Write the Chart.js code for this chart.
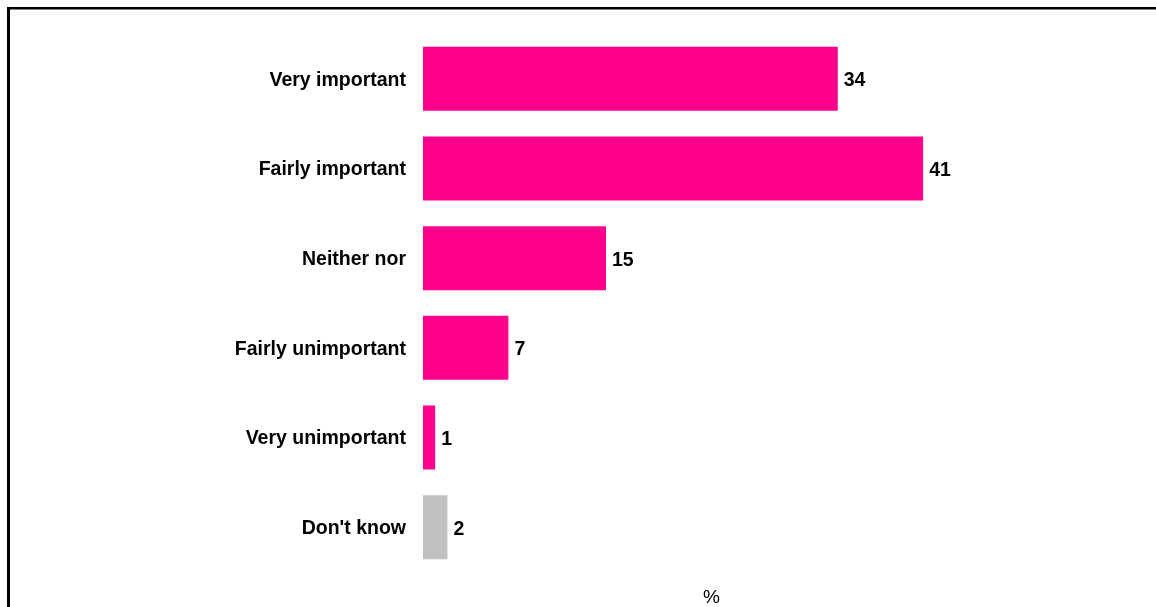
<!DOCTYPE html>
<html>
<head>
<meta charset="utf-8">
<script src="https://cdn.jsdelivr.net/npm/chart.js@4"></script>
<style>
  html, body { margin: 0; padding: 0; background: #fff; }
  #wrap { position: relative; width: 1156px; height: 607px; }
</style>
</head>
<body>
<div id="wrap"><canvas id="chImportance"></canvas></div>
<script>
const categories = ['Very important', 'Fairly important', 'Neither nor', 'Fairly unimportant', 'Very unimportant', "Don't know"];
const values = [34, 41, 15, 7, 1, 2];
const barColors = ['#FF008C', '#FF008C', '#FF008C', '#FF008C', '#FF008C', '#C0C0C0'];
const axisTitle = '%';

const FONT = 'Liberation Sans, Arial, Helvetica, sans-serif';

// frame: top and left rules round the chart
const framePlugin = {
  id: 'frame',
  afterDraw(chart) {
    const ctx = chart.ctx;
    ctx.save();
    ctx.fillStyle = '#000';
    ctx.fillRect(7, 7, chart.width - 7, 2.5);
    ctx.fillRect(7, 7, 3, chart.height - 7);
    ctx.restore();
  }
};

// value labels at the end of each bar
const valueLabels = {
  id: 'valueLabels',
  afterDatasetsDraw(chart) {
    const ctx = chart.ctx;
    const meta = chart.getDatasetMeta(0);
    ctx.save();
    ctx.font = 'bold 19.5px ' + FONT;
    ctx.fillStyle = '#000';
    ctx.textAlign = 'left';
    ctx.textBaseline = 'middle';
    meta.data.forEach((bar, i) => {
      ctx.fillText(String(values[i]), bar.x + 6, bar.y + 2);
    });
    ctx.restore();
  }
};

new Chart(document.getElementById('chImportance'), {
  type: 'bar',
  data: {
    labels: categories,
    datasets: [{ data: values, backgroundColor: barColors, borderWidth: 0, barPercentage: 0.713, categoryPercentage: 1 }]
  },
  options: {
    indexAxis: 'y',
    responsive: true,
    maintainAspectRatio: false,
    animation: false,
    layout: { padding: { top: 34, right: 156, bottom: 0, left: 0 } },
    plugins: { legend: { display: false }, tooltip: { enabled: false } },
    scales: {
      x: {
        min: 0, max: 47.3,
        grid: { display: false },
        border: { display: false },
        ticks: { display: false },
        title: { display: true, text: axisTitle, color: '#000', font: { family: FONT, size: 19 }, padding: { top: 0, bottom: -2 } },
        afterFit(scale) { scale.height = 35; }
      },
      y: {
        grid: { display: false, drawTicks: false },
        border: { display: false },
        ticks: { color: '#000', padding: 17, labelOffset: 1.5, font: { family: FONT, size: 19.5, weight: 'bold' } },
        afterFit(scale) { scale.width = 423; }
      }
    }
  },
  plugins: [framePlugin, valueLabels]
});
</script>
</body>
</html>
